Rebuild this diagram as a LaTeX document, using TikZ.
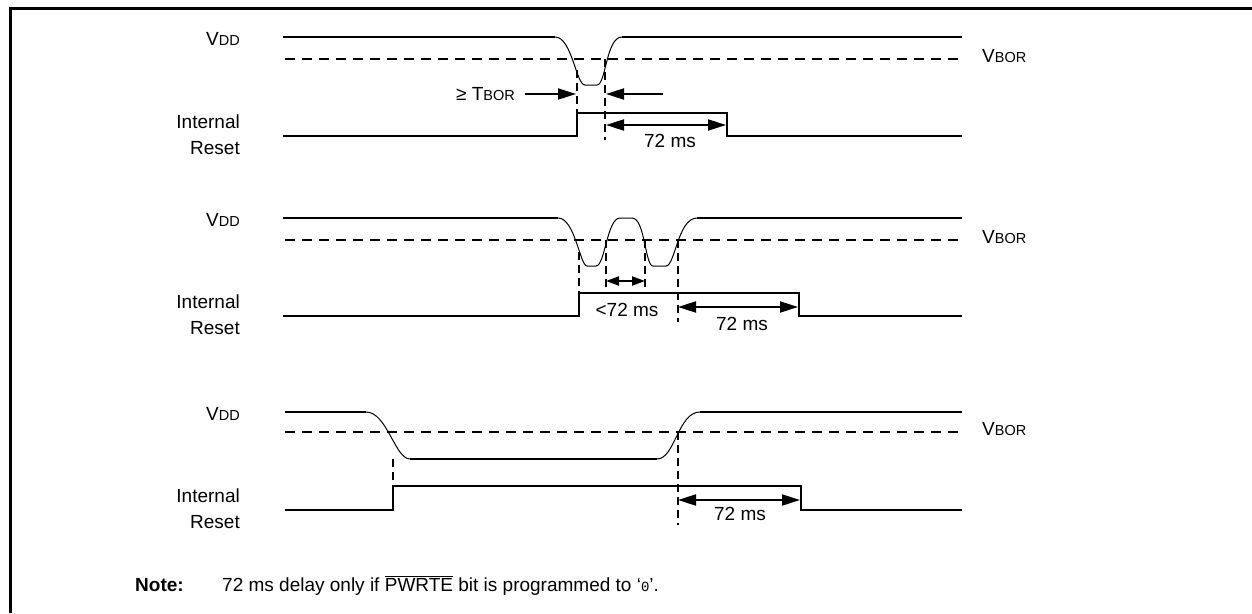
\documentclass[tikz,border=0pt]{standalone}
\usepackage{fontspec}
\setmainfont{Liberation Sans}
\newfontfamily\monofont{Liberation Mono}
\usetikzlibrary{arrows.meta}
\newcommand\smc[1]{{\fontsize{14.5}{14.5}\selectfont #1}}
\begin{document}
\begin{tikzpicture}[x=1pt,y=-1pt,
  sig/.style={line width=2pt},
  curve/.style={line width=1pt},
  thr/.style={line width=2pt, dash pattern=on 10pt off 7pt},
  vdash/.style={line width=2pt, dash pattern=on 8pt off 5pt},
  tip/.style={-{Triangle[length=18pt,width=11pt]}},
  dim/.style={line width=2pt,{Triangle[length=18pt,width=11pt]}-{Triangle[length=18pt,width=11pt]}},
  sdim/.style={line width=2pt,{Triangle[length=13pt,width=9pt]}-{Triangle[length=13pt,width=9pt]}},
  lbl/.style={font=\fontsize{19}{19}\selectfont, inner sep=0pt, anchor=base east},
  rlbl/.style={font=\fontsize{19}{19}\selectfont, inner sep=0pt, anchor=base west},
  clbl/.style={font=\fontsize{19}{19}\selectfont, inner sep=0pt, anchor=base},
]
\useasboundingbox (0,0) rectangle (1252,613);
\draw[line width=3pt] (10,613) -- (10,8) -- (1252,8);

% ---------- panel 1 ----------
\node[lbl] (vdd1) at (240,45) {V\smc{DD}};
\node[lbl] (int1) at (240,128) {Internal};
\node[lbl] (rst1) at (240,154) {Reset};
\node[rlbl] (vbor1) at (982,62) {V\smc{BOR}};
\draw[sig] (283,37) -- (555,37);
\draw[curve] (555,37) .. controls (572,37) and (576,85) .. (585,85) -- (597,85) .. controls (606,85) and (606,37) .. (622,37);
\draw[sig] (622,37) -- (962,37);
\draw[thr] (285,59) -- (962,59);
\draw[sig] (283,136) -- (577,136) -- (577,113) -- (727,113) -- (727,136) -- (962,136);
\draw[vdash] (577,70) -- (577,113);
\draw[vdash] (605,59) -- (605,140);
\node[lbl] (tbor) at (515,100) {≥ T\smc{BOR}};
\coordinate (a1l) at (576,94);
\coordinate (a1r) at (606,94);
\draw[sig,tip] (525,94) -- (a1l);
\draw[sig,tip] (663,94) -- (a1r);
\draw[dim] (606,125) -- (726,125);
\node[clbl] (t1) at (670,147) {72 ms};

% ---------- panel 2 ----------
\node[lbl] (vdd2) at (240,226) {V\smc{DD}};
\node[lbl] (int2) at (240,308) {Internal};
\node[lbl] (rst2) at (240,334) {Reset};
\node[rlbl] (vbor2) at (982,243) {V\smc{BOR}};
\draw[sig] (283,218) -- (558,218);
\draw[curve] (558,218) .. controls (575,218) and (580,266) .. (587,266) -- (596,266)
  .. controls (605,266) and (607,218) .. (620,218) -- (632,218)
  .. controls (645,218) and (645,266) .. (653,266) -- (666,266)
  .. controls (675,266) and (678,218) .. (697,218);
\draw[sig] (697,218) -- (962,218);
\draw[thr] (285,240) -- (962,240);
\draw[sig] (283,316) -- (579,316) -- (579,293) -- (799,293) -- (799,316) -- (962,316);
\draw[vdash] (579,252) -- (579,293);
\draw[vdash] (606,240) -- (606,293);
\draw[vdash] (645,240) -- (645,293);
\draw[vdash] (678,240) -- (678,322);
\draw[sdim] (606,281) -- (645,281);
\node[clbl] (t2a) at (627,316) {<72 ms};
\draw[dim] (678,307) -- (798,307);
\node[clbl] (t2b) at (742,330) {72 ms};

% ---------- panel 3 ----------
\node[lbl] (vdd3) at (240,420) {V\smc{DD}};
\node[lbl] (int3) at (240,502) {Internal};
\node[lbl] (rst3) at (240,528) {Reset};
\node[rlbl] (vbor3) at (982,435) {V\smc{BOR}};
\draw[sig] (285,412) -- (366,412);
\draw[curve] (366,412) .. controls (387,412) and (395,459) .. (410,459);
\draw[sig] (410,459) -- (657,459);
\draw[curve] (657,459) .. controls (675,459) and (678,412) .. (700,412);
\draw[sig] (700,412) -- (962,412);
\draw[thr] (285,432) -- (962,432);
\draw[sig] (285,510) -- (393,510) -- (393,486) -- (801,486) -- (801,510) -- (962,510);
\draw[vdash] (393,459) -- (393,486);
\draw[vdash] (678,432) -- (678,525);
\draw[dim] (678,500) -- (800,500);
\node[clbl] (t3) at (740,520) {72 ms};

% ---------- note ----------
\node[rlbl,font=\fontsize{19}{19}\selectfont\bfseries] (note) at (135,591) {Note:};
\node[rlbl,font=\fontsize{19}{19}\selectfont] (notetxt) at (222,591) {72 ms delay only if $\overline{\mbox{PWRTE}}$ bit is programmed to `{\monofont\fontsize{14}{14}\selectfont 0}'.};
\end{tikzpicture}
\end{document}
